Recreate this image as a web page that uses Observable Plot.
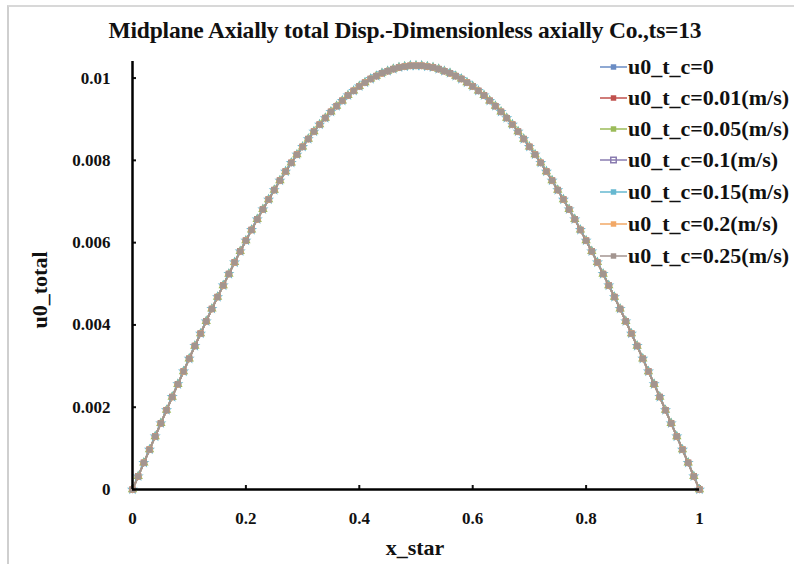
<!DOCTYPE html>
<html>
<head>
<meta charset="utf-8">
<script src="https://cdn.jsdelivr.net/npm/d3@7"></script>
<script src="https://cdn.jsdelivr.net/npm/@observablehq/plot@0.6"></script>
<style>
  html, body { margin: 0; padding: 0; background: #fff; }
  #wrap { position: relative; width: 794px; height: 564px; overflow: hidden; font-family: "Liberation Serif", "DejaVu Serif", serif; font-weight: bold; color: #111; }
  #frame { position: absolute; left: 7px; top: 5px; right: -10px; bottom: -10px; border-left: 2px solid #cfcfcf; border-top: 2px solid #d8d8d8; }
  #title { position: absolute; left: 8px; top: 0; width: 794px; height: 45px; line-height: 60px; text-align: center; font-size: 23.5px; letter-spacing: -0.2px; }
  #chart { position: absolute; left: 0; top: 45px; }
  .ylab { position: absolute; left: 40px; top: 290px; transform: translate(-50%, -50%) rotate(-90deg); font-size: 22px; white-space: nowrap; }
  .xlab { position: absolute; left: 415px; top: 548px; transform: translate(-50%, -50%); font-size: 22px; white-space: nowrap; }
  #legend { position: absolute; left: 600px; top: 0; }
  .row { position: absolute; left: 0; height: 24px; display: flex; align-items: center; white-space: nowrap; font-size: 22px; }
  .row svg { margin-right: 1px; }
</style>
</head>
<body>
<div id="wrap">
  <div id="frame"></div>
  <div id="title">Midplane Axially total Disp.-Dimensionless axially Co.,ts=13</div>
  <div id="chart"></div>
  <div class="ylab">u0_total</div>
  <div class="xlab">x_star</div>
  <div id="legend"></div>
</div>
<script>
// ---- data ----
const seriesNames = ["u0_t_c=0", "u0_t_c=0.01(m/s)", "u0_t_c=0.05(m/s)", "u0_t_c=0.1(m/s)", "u0_t_c=0.15(m/s)", "u0_t_c=0.2(m/s)", "u0_t_c=0.25(m/s)"];
const seriesColors = ["#6a8cc4", "#c0504d", "#9bbb59", "#8a7cb0", "#66b8d0", "#f2a866", "#a39590"];
const seriesSymbols = ["diamond2", "square", "triangle", "times", "star", "circle", "square"];

const xStar = [0,0.01,0.02,0.03,0.04,0.05,0.06,0.07,0.08,0.09,0.1,0.11,0.12,0.13,0.14,0.15,0.16,0.17,0.18,0.19,0.2,0.21,0.22,0.23,0.24,0.25,0.26,0.27,0.28,0.29,0.3,0.31,0.32,0.33,0.34,0.35,0.36,0.37,0.38,0.39,0.4,0.41,0.42,0.43,0.44,0.45,0.46,0.47,0.48,0.49,0.5,0.51,0.52,0.53,0.54,0.55,0.56,0.57,0.58,0.59,0.6,0.61,0.62,0.63,0.64,0.65,0.66,0.67,0.68,0.69,0.7,0.71,0.72,0.73,0.74,0.75,0.76,0.77,0.78,0.79,0.8,0.81,0.82,0.83,0.84,0.85,0.86,0.87,0.88,0.89,0.9,0.91,0.92,0.93,0.94,0.95,0.96,0.97,0.98,0.99,1];

// all seven series coincide in the picture
const u0Total = [0,0.00032,0.00065,0.00097,0.00129,0.00161,0.00193,0.00225,0.00256,0.00287,0.00318,0.00349,0.00379,0.00409,0.00439,0.00468,0.00496,0.00524,0.00552,0.00579,0.00605,0.00631,0.00657,0.00681,0.00705,0.00728,0.00751,0.00773,0.00794,0.00814,0.00833,0.00852,0.0087,0.00887,0.00903,0.00918,0.00932,0.00945,0.00958,0.00969,0.0098,0.00989,0.00998,0.01005,0.01012,0.01017,0.01022,0.01026,0.01028,0.0103,0.0103,0.0103,0.01028,0.01026,0.01022,0.01017,0.01012,0.01005,0.00998,0.00989,0.0098,0.00969,0.00958,0.00945,0.00932,0.00918,0.00903,0.00887,0.0087,0.00852,0.00833,0.00814,0.00794,0.00773,0.00751,0.00728,0.00705,0.00681,0.00657,0.00631,0.00605,0.00579,0.00552,0.00524,0.00496,0.00468,0.00439,0.00409,0.00379,0.00349,0.00318,0.00287,0.00256,0.00225,0.00193,0.00161,0.00129,0.00097,0.00065,0.00032,0];

const xTicks = [0, 0.2, 0.4, 0.6, 0.8, 1];
const yTicks = [0, 0.002, 0.004, 0.006, 0.008, 0.01];

// ---- build long table ----
const rows = [];
seriesNames.forEach((s) => {
  xStar.forEach((x, i) => rows.push({ s, x, y: u0Total[i] }));
});

const chart = Plot.plot({
  width: 794,
  height: 519,
  marginLeft: 132,
  marginRight: 95,
  marginTop: 12,
  marginBottom: 75,
  style: { fontFamily: "'Liberation Serif', serif", fontWeight: "bold", fontSize: "17px", color: "#111", background: "transparent" },
  x: { domain: [0, 1] },
  y: { domain: [0, 0.0105] },
  color: { domain: seriesNames, range: seriesColors },
  symbol: { domain: seriesNames, range: seriesSymbols },
  marks: [
    Plot.axisX({ ticks: xTicks, tickSize: -4, tickPadding: 26, tickFormat: d3.format("~g"), label: null, strokeWidth: 2 }),
    Plot.axisY({ ticks: yTicks, tickSize: -4, tickPadding: 26, tickFormat: (d) => d === 0 ? "0" : d3.format("~g")(d), label: null, strokeWidth: 2 }),
    Plot.line(rows, { x: "x", y: "y", z: "s", stroke: "s", strokeWidth: 1.8 }),
    Plot.dot(rows, { x: "x", y: "y", fill: "s", symbol: "s", r: 3.5, stroke: null }),
    Plot.ruleX([0], { y1: 0, y2: 0.0104, stroke: "#000", strokeWidth: 2.5 }),
    Plot.ruleY([0], { x1: 0, x2: 1, stroke: "#000", strokeWidth: 2.5 })
  ]
});
document.getElementById("chart").appendChild(chart);

// ---- legend ----
const legendY = [67, 98, 129, 160, 192, 224, 256];
const legend = document.getElementById("legend");
seriesNames.forEach((s, i) => {
  const row = document.createElement("div");
  row.className = "row";
  row.style.top = (legendY[i] - 12) + "px";
  const sym = d3.symbol(Plot.symbol ? Plot.symbol(seriesSymbols[i]) || d3.symbolSquare : d3.symbolSquare, 30)();
  const isStroke = seriesSymbols[i] === "times" || seriesSymbols[i] === "plus";
  row.innerHTML = `<svg width="27" height="12"><line x1="0" x2="27" y1="6" y2="6" stroke="${seriesColors[i]}" stroke-width="1.5"/><path transform="translate(13.5,6)" d="${sym}" fill="${isStroke ? 'none' : seriesColors[i]}" stroke="${isStroke ? seriesColors[i] : 'none'}" stroke-width="1.5"/></svg><span>${s}</span>`;
  legend.appendChild(row);
});
</script>
</body>
</html>
